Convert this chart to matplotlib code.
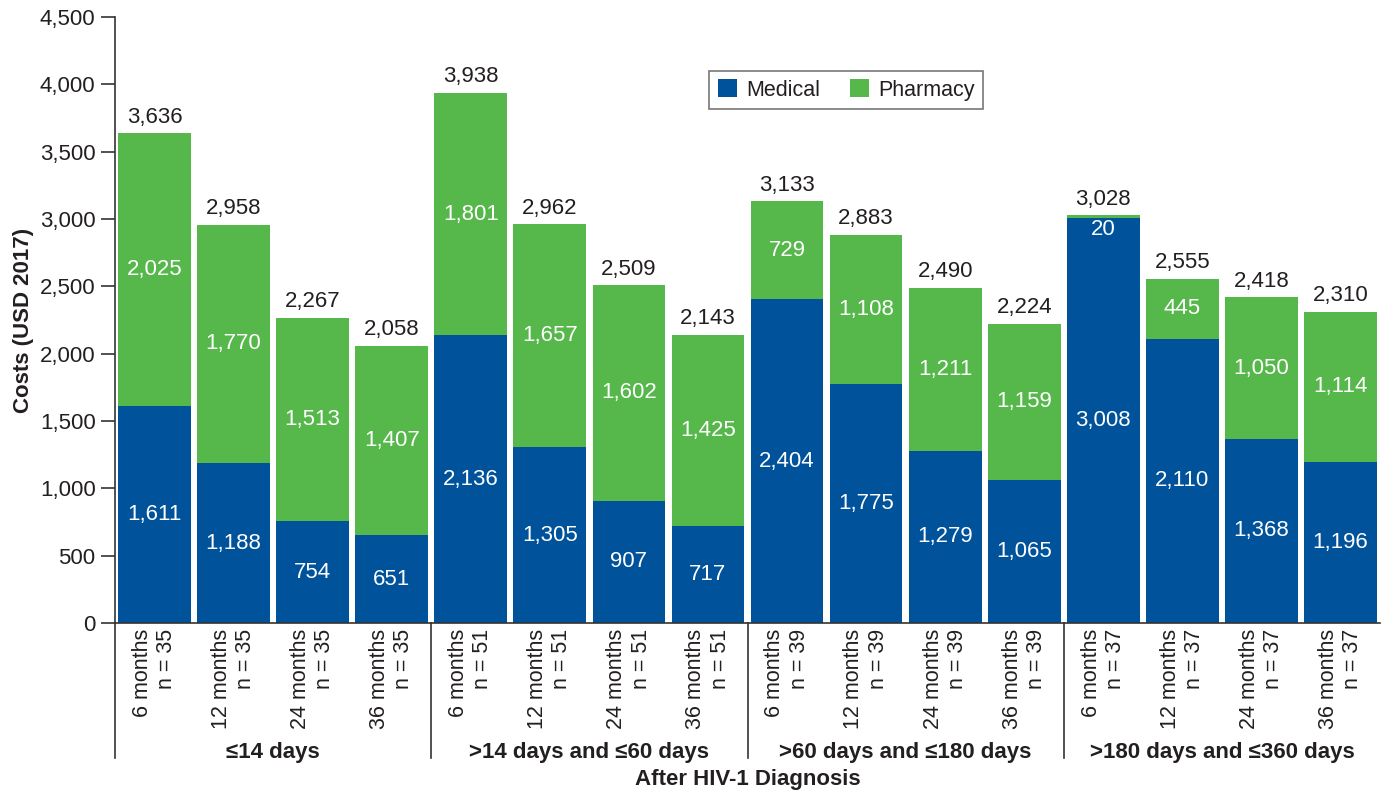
import matplotlib
matplotlib.use("Agg")
import matplotlib.pyplot as plt
import matplotlib.transforms as mtransforms
from matplotlib.patches import Patch

plt.rcParams['font.family'] = ['Liberation Sans', 'DejaVu Sans']

groups = ["≤14 days", ">14 days and ≤60 days", ">60 days and ≤180 days", ">180 days and ≤360 days"]
periods = ["6 months", "12 months", "24 months", "36 months"]
group_n = [35, 51, 39, 37]
medical = [1611, 1188, 754, 651,
           2136, 1305, 907, 717,
           2404, 1775, 1279, 1065,
           3008, 2110, 1368, 1196]
pharmacy = [2025, 1770, 1513, 1407,
            1801, 1657, 1602, 1425,
            729, 1108, 1211, 1159,
            20, 445, 1050, 1114]
totals = [3636, 2958, 2267, 2058,
          3938, 2962, 2509, 2143,
          3133, 2883, 2490, 2224,
          3028, 2555, 2418, 2310]

blue = "#00529B"
green = "#56B84B"
dark = "#231F20"
FS = 16

fig = plt.figure(figsize=(13.88, 7.94), dpi=100)
ax = fig.add_axes([115/1388, 1-623/794, 1265/1388, 606/794])

x = list(range(len(medical)))
tick_labels = []
for g, n in zip(groups, group_n):
    for p in periods:
        tick_labels.append(f"{p}\nn = {n}")

ax.bar(x, medical, width=0.92, color=blue, label="Medical")
ax.bar(x, pharmacy, width=0.92, bottom=medical, color=green, label="Pharmacy")

for i in x:
    m, p, t = medical[i], pharmacy[i], totals[i]
    ax.text(i, m / 2, f"{m:,}", ha="center", va="center", color="white", fontsize=FS)
    if p < 150:
        ax.text(i, m + p - 25, f"{p:,}", ha="center", va="top", color="white", fontsize=FS)
    else:
        ax.text(i, m + p / 2, f"{p:,}", ha="center", va="center", color="white", fontsize=FS)
    ax.annotate(f"{t:,}", (i, m + p), xytext=(0, 4), textcoords="offset points",
                ha="center", va="bottom", color=dark, fontsize=FS)

ax.set_xlim(-0.5, 15.5)
ax.set_ylim(0, 4500)
ax.set_yticks(range(0, 4501, 500))
ax.set_yticklabels([f"{v:,}" for v in range(0, 4501, 500)], fontsize=FS, color=dark)
ax.set_xticks(x)
ax.set_xticklabels(tick_labels, rotation=90, fontsize=15.5, color=dark,
                   multialignment="right", va="top", ha="center", linespacing=1.2)
ax.tick_params(axis="x", length=0, pad=4)
ax.tick_params(axis="y", length=10, width=1.2, color="#333333", pad=4)

for s in ["top", "right"]:
    ax.spines[s].set_visible(False)
for s in ["left", "bottom"]:
    ax.spines[s].set_color("#333333")
    ax.spines[s].set_linewidth(1.2)

ax.set_ylabel("Costs (USD 2017)", fontsize=FS, fontweight="bold", color=dark, labelpad=4)

trans = mtransforms.blended_transform_factory(ax.transData, ax.transAxes)
for b in [-0.5, 3.5, 7.5, 11.5]:
    ax.plot([b, b], [0, -0.222], transform=trans, color="#333333", lw=1.2, clip_on=False)
for gi, g in enumerate(groups):
    ax.text(gi * 4 + 1.5, -0.213, g, transform=trans, ha="center", va="center",
            fontsize=FS, fontweight="bold", color=dark)
ax.text(0.5, -0.259, "After HIV-1 Diagnosis", transform=ax.transAxes, ha="center",
        va="center", fontsize=FS, fontweight="bold", color=dark)

handles = [Patch(facecolor=blue, label="Medical"), Patch(facecolor=green, label="Pharmacy")]
leg = ax.legend(handles=handles, loc="center", bbox_to_anchor=(0.578, 0.8795), ncol=2,
                fontsize=15.5, frameon=True, fancybox=False, edgecolor="#555555",
                handlelength=0.9, handleheight=0.9, handletextpad=0.4, columnspacing=1.4,
                borderpad=0.4)
leg.get_frame().set_linewidth(1.2)
for t in leg.get_texts():
    t.set_color(dark)

fig.savefig("out.png", dpi=100)
